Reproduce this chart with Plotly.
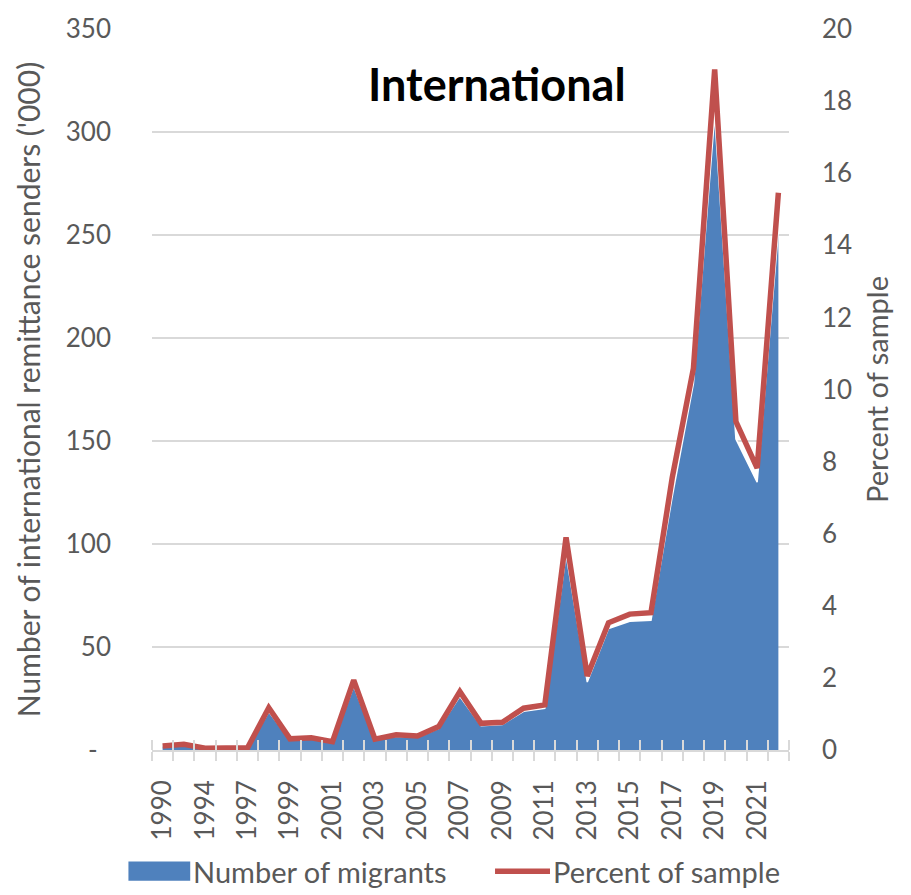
import plotly.graph_objects as go

# Survey years (two early waves between 1990 and 1997 are unlabelled on the axis)
years = [1990, 1992, 1994, 1996, 1997, 1998, 1999, 2000, 2001, 2002,
         2003, 2004, 2005, 2006, 2007, 2008, 2009, 2010, 2011, 2012,
         2013, 2014, 2015, 2016, 2017, 2018, 2019, 2020, 2021, 2022]

# International remittance senders ('000)
migrants = [1.8, 2.6, 0.8, 1.1, 1.0, 18.5, 5.0, 5.5, 3.7, 31.0,
            4.8, 6.7, 6.2, 10.5, 26.0, 11.8, 12.4, 18.8, 20.2, 95.0,
            33.0, 59.0, 62.5, 63.0, 123.0, 178.0, 308.0, 151.0, 130.0, 252.0]

# Share of the sample (%)
percent = [0.11, 0.16, 0.05, 0.07, 0.06, 1.17, 0.31, 0.34, 0.23, 1.94,
           0.30, 0.42, 0.39, 0.65, 1.62, 0.74, 0.77, 1.16, 1.25, 5.90,
           2.05, 3.53, 3.77, 3.81, 7.55, 10.59, 18.88, 9.11, 7.82, 15.46]

left_ticks = [0, 50, 100, 150, 200, 250, 300, 350]
right_ticks = [0, 2, 4, 6, 8, 10, 12, 14, 16, 18, 20]

series_names = ["Number of migrants", "Percent of sample"]

BLUE = "#4F81BD"
RED = "#C0504D"
GREY_TXT = "#595959"
GRID = "#D9D9D9"
FONT = "Lato"

n = len(years)
xi = list(range(n))
boundaries = [i - 0.5 for i in range(n + 1)]
x_range = [-0.5, n - 0.5]

fig = go.Figure()

fig.add_trace(go.Scatter(
    x=xi, y=migrants, name=series_names[0],
    mode="lines", fill="tozeroy", fillcolor=BLUE,
    line=dict(color="white", width=1.5),
    hoverinfo="skip", showlegend=False,
))

fig.add_trace(go.Scatter(
    x=xi, y=percent, name=series_names[1],
    mode="lines", xaxis="x2", yaxis="y2",
    line=dict(color=RED, width=5.5),
    hoverinfo="skip", showlegend=False,
))

tick_font = dict(family=FONT, size=26, color=GREY_TXT)
left_title_font = dict(family=FONT, size=30, color=GREY_TXT)
right_title_font = dict(family=FONT, size=29, color=GREY_TXT)
legend_font = dict(family=FONT, size=29, color=GREY_TXT)

# Legend row below the axis: filled swatch for the area, stroke for the line
legend_y = -0.168
shapes = [
    dict(type="rect", xref="paper", yref="paper",
         x0=-0.037, x1=0.060, y0=legend_y - 0.0135, y1=legend_y + 0.0135,
         fillcolor=BLUE, line=dict(width=0)),
    dict(type="line", xref="paper", yref="paper",
         x0=0.5385, x1=0.6248, y0=legend_y, y1=legend_y,
         line=dict(color=RED, width=5.5)),
]
annotations = [
    dict(text="<b>International</b>", xref="paper", yref="paper",
         x=0.5416, y=0.924, xanchor="center", yanchor="middle",
         showarrow=False, font=dict(family=FONT, size=45, color="black")),
    dict(text=series_names[0], xref="paper", yref="paper",
         x=0.062, y=legend_y, xanchor="left", yanchor="middle",
         showarrow=False, font=legend_font),
    dict(text=series_names[1], xref="paper", yref="paper",
         x=0.627, y=legend_y, xanchor="left", yanchor="middle",
         showarrow=False, font=legend_font),
]

fig.update_layout(
    width=911, height=895,
    margin=dict(l=152, r=122, t=29, b=145, autoexpand=False),
    paper_bgcolor="white", plot_bgcolor="white",
    font=dict(family=FONT, color=GREY_TXT),
    showlegend=False,
    xaxis=dict(
        range=x_range, automargin=False,
        tickmode="array", tickvals=xi[::2],
        ticktext=[str(y) for y in years[::2]],
        tickangle=-90, ticks="", tickfont=tick_font,
        ticklabelstandoff=18,
        showline=True, linecolor=GRID, linewidth=1.5,
        showgrid=False, zeroline=False,
        minor=dict(tickmode="array", tickvals=boundaries, ticks="outside",
                   ticklen=9, tickcolor=GRID, tickwidth=1.5, showgrid=False),
    ),
    xaxis2=dict(
        range=x_range, overlaying="x", anchor="y", side="bottom",
        automargin=False,
        showticklabels=False, ticks="", showgrid=False, zeroline=False,
        showline=False,
        minor=dict(tickmode="array", tickvals=boundaries, ticks="inside",
                   ticklen=10, tickcolor=GRID, tickwidth=1.5, showgrid=False),
    ),
    yaxis=dict(
        range=[0, 350], automargin=False,
        tickmode="array", tickvals=left_ticks,
        ticktext=["-\u00a0\u00a0"] + [str(v) for v in left_ticks[1:]],
        ticks="", tickfont=tick_font, ticklabelstandoff=40,
        showgrid=True, gridcolor=GRID, gridwidth=1.5,
        zeroline=False, showline=False,
        title=dict(text="Number of international remittance senders ('000)",
                   font=left_title_font, standoff=16),
    ),
    yaxis2=dict(
        range=[0, 20], overlaying="y", side="right", anchor="x",
        automargin=False,
        tickmode="array", tickvals=right_ticks,
        ticks="", tickfont=tick_font, ticklabelstandoff=32,
        showgrid=False, zeroline=False, showline=False,
        title=dict(text="Percent of sample", font=right_title_font, standoff=16),
    ),
    shapes=shapes,
    annotations=annotations,
)

fig.write_html("out.html")
